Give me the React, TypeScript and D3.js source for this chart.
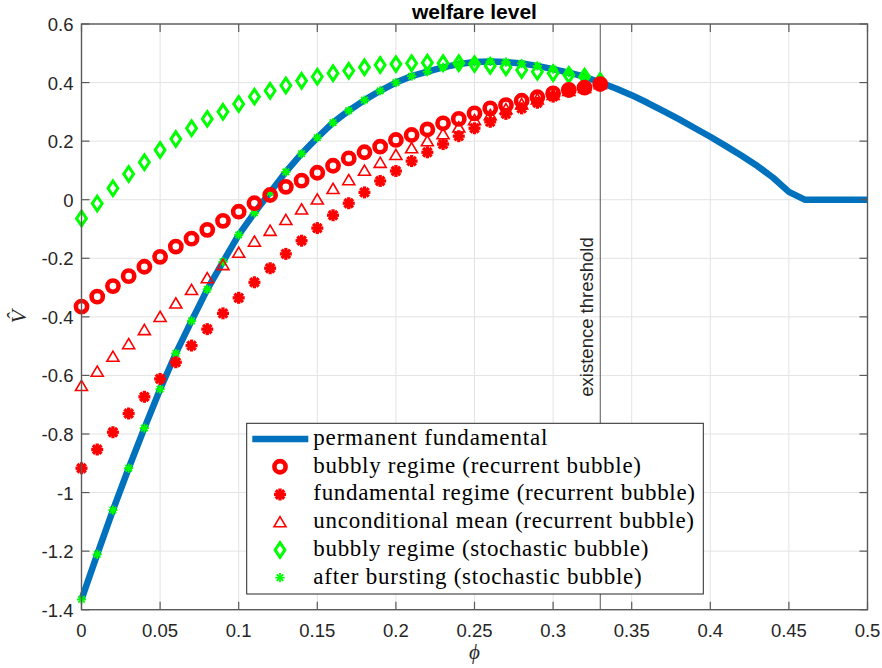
import React from "react";
import * as d3 from "d3";

// ---- data ----
const phiMarkers = [0, 0.01, 0.02, 0.03, 0.04, 0.05, 0.06, 0.07, 0.08, 0.09, 0.1, 0.11, 0.12, 0.13, 0.14, 0.15, 0.16, 0.17, 0.18, 0.19, 0.2, 0.21, 0.22, 0.23, 0.24, 0.25, 0.26, 0.27, 0.28, 0.29, 0.3, 0.31, 0.32, 0.33];
const phiLine = [0, 0.01, 0.02, 0.03, 0.04, 0.05, 0.06, 0.07, 0.08, 0.09, 0.1, 0.11, 0.12, 0.13, 0.14, 0.15, 0.16, 0.17, 0.18, 0.19, 0.2, 0.21, 0.22, 0.23, 0.24, 0.25, 0.26, 0.27, 0.28, 0.29, 0.3, 0.31, 0.32, 0.33, 0.34, 0.35, 0.36, 0.37, 0.38, 0.39, 0.4, 0.41, 0.42, 0.43, 0.44, 0.45, 0.46, 0.47, 0.48, 0.49, 0.5];
const permanentFundamental = [-1.365, -1.211, -1.06, -0.917, -0.78, -0.647, -0.525, -0.414, -0.306, -0.212, -0.12, -0.045, 0.025, 0.095, 0.157, 0.212, 0.263, 0.304, 0.34, 0.372, 0.4, 0.422, 0.437, 0.452, 0.463, 0.47, 0.472, 0.47, 0.465, 0.457, 0.446, 0.434, 0.42, 0.4, 0.38, 0.357, 0.331, 0.303, 0.275, 0.245, 0.215, 0.183, 0.15, 0.115, 0.075, 0.027, 0, 0, 0, 0, 0];
const bubblyRecurrent = [-0.365, -0.331, -0.295, -0.261, -0.229, -0.195, -0.16, -0.133, -0.103, -0.072, -0.041, -0.012, 0.016, 0.044, 0.065, 0.092, 0.116, 0.141, 0.162, 0.181, 0.204, 0.221, 0.24, 0.261, 0.276, 0.295, 0.312, 0.323, 0.338, 0.35, 0.363, 0.375, 0.383, 0.395];
const fundamentalRecurrent = [-0.917, -0.853, -0.794, -0.73, -0.673, -0.612, -0.555, -0.498, -0.442, -0.388, -0.335, -0.282, -0.234, -0.185, -0.14, -0.097, -0.053, -0.012, 0.025, 0.064, 0.098, 0.132, 0.162, 0.19, 0.217, 0.244, 0.266, 0.293, 0.312, 0.331, 0.352, 0.369, 0.382, 0.395];
const unconditionalMean = [-0.636, -0.587, -0.536, -0.493, -0.445, -0.4, -0.354, -0.308, -0.268, -0.223, -0.181, -0.143, -0.106, -0.069, -0.033, 0.001, 0.037, 0.067, 0.099, 0.126, 0.153, 0.176, 0.2, 0.224, 0.247, 0.272, 0.289, 0.309, 0.326, 0.343, 0.358, 0.372, 0.382, 0.395];
const bubblyStochastic = [-0.064, -0.013, 0.039, 0.088, 0.128, 0.17, 0.207, 0.244, 0.276, 0.3, 0.327, 0.352, 0.372, 0.39, 0.406, 0.42, 0.432, 0.44, 0.452, 0.46, 0.463, 0.466, 0.468, 0.466, 0.466, 0.463, 0.457, 0.452, 0.443, 0.437, 0.432, 0.426, 0.42, 0.405];
const afterBursting = [-1.365, -1.211, -1.06, -0.917, -0.78, -0.647, -0.525, -0.414, -0.306, -0.212, -0.12, -0.045, 0.025, 0.095, 0.157, 0.212, 0.263, 0.304, 0.34, 0.372, 0.4, 0.422, 0.437, 0.452, 0.463, 0.47, 0.472, 0.47, 0.465, 0.457, 0.446, 0.434, 0.42, 0.4];
const xTicks = [0, 0.05, 0.1, 0.15, 0.2, 0.25, 0.3, 0.35, 0.4, 0.45, 0.5];
const xTickLabels = ["0", "0.05", "0.1", "0.15", "0.2", "0.25", "0.3", "0.35", "0.4", "0.45", "0.5"];
const yTicks = [-1.4, -1.2, -1, -0.8, -0.6, -0.4, -0.2, 0, 0.2, 0.4, 0.6];
const yTickLabels = ["-1.4", "-1.2", "-1", "-0.8", "-0.6", "-0.4", "-0.2", "0", "0.2", "0.4", "0.6"];
const threshold = 0.33;
const legendLabels = [
  "permanent fundamental",
  "bubbly regime (recurrent bubble)",
  "fundamental regime (recurrent bubble)",
  "unconditional mean (recurrent bubble)",
  "bubbly regime (stochastic bubble)",
  "after bursting (stochastic bubble)",
];
const legendWidths = [234, 327.7, 381.7, 380.7, 335, 328.4];

const W = 882, H = 668;
const L = 81.5, R = 867.5, T = 24, B = 609.7;
const RED = "#FF0000", GREEN = "#00FF00", BLUE = "#0072BD";
const SANS = "'Liberation Sans', Arial, Helvetica, sans-serif";
const SERIF = "'Liberation Serif', 'Times New Roman', serif";

const Circle = ({ cx, cy }: { cx: number; cy: number }) => (
  <circle cx={cx} cy={cy} r={5.6} fill="none" stroke={RED} strokeWidth={4.6} />
);
const Star = ({ cx, cy, color, r, sw, fillC }: any) => {
  const arms = [0, 45, 90, 135];
  return (
    <g transform={`translate(${cx},${cy})`}>
      {arms.map((a) => {
        const rad = (a * Math.PI) / 180;
        const dx = Math.cos(rad) * r, dy = Math.sin(rad) * r;
        return <line key={a} x1={-dx} y1={-dy} x2={dx} y2={dy} stroke={color} strokeWidth={sw} />;
      })}
      {fillC ? <circle r={fillC} fill={color} /> : null}
    </g>
  );
};
const Tri = ({ cx, cy }: { cx: number; cy: number }) => (
  <path d={`M${cx},${cy - 5.6} L${cx + 6},${cy + 4.6} L${cx - 6},${cy + 4.6} Z`} fill="none" stroke={RED} strokeWidth={1.6} />
);
const Diamond = ({ cx, cy }: { cx: number; cy: number }) => (
  <path d={`M${cx},${cy - 7.3} L${cx + 4.9},${cy} L${cx},${cy + 7.3} L${cx - 4.9},${cy} Z`} fill="none" stroke={GREEN} strokeWidth={3} />
);

export default function App() {
  const x = d3.scaleLinear().domain([0, 0.5]).range([L, R]);
  const y = d3.scaleLinear().domain([-1.4, 0.6]).range([B, T]);
  const line = d3.line<number>().x((_, i) => x(phiLine[i])).y((d) => y(d));
  const legX = 246.7, legY = 423.3, legW = 456.6, legH = 170.7;
  const rowY = (i: number) => 439 + i * 27.74;

  return (
    <svg width={W} height={H} style={{ position: "absolute", left: 0, top: 0, background: "#fff" }}>
      <rect x={0} y={0} width={W} height={H} fill="#fff" />
      <rect x={L} y={T} width={R - L} height={B - T} fill="#fff" />
      {/* grid */}
      {xTicks.map((t) => (
        <line key={"gx" + t} x1={x(t)} x2={x(t)} y1={T} y2={B} stroke="#e3e3e3" strokeWidth={1} />
      ))}
      {yTicks.map((t) => (
        <line key={"gy" + t} x1={L} x2={R} y1={y(t)} y2={y(t)} stroke="#e3e3e3" strokeWidth={1} />
      ))}
      {/* threshold */}
      <line x1={x(threshold)} x2={x(threshold)} y1={T} y2={B} stroke="#555" strokeWidth={1} />
      <text transform={`translate(${x(threshold) - 7},396.7) rotate(-90)`} fontFamily={SANS} fontSize={18.5} fill="#262626">existence threshold</text>
      {/* line */}
      <path d={line(permanentFundamental) || ""} fill="none" stroke={BLUE} strokeWidth={6.5} strokeLinejoin="round" />
      {/* markers */}
      {bubblyStochastic.map((v, i) => <Diamond key={"d" + i} cx={x(phiMarkers[i])} cy={y(v)} />)}
      {afterBursting.map((v, i) => <Star key={"a" + i} cx={x(phiMarkers[i])} cy={y(v)} color={GREEN} r={4.6} sw={1.8} />)}
      {bubblyRecurrent.map((v, i) => <Circle key={"c" + i} cx={x(phiMarkers[i])} cy={y(v)} />)}
      {fundamentalRecurrent.map((v, i) => <Star key={"s" + i} cx={x(phiMarkers[i])} cy={y(v)} color={RED} r={6} sw={3.3} fillC={3} />)}
      {unconditionalMean.map((v, i) => <Tri key={"t" + i} cx={x(phiMarkers[i])} cy={y(v)} />)}
      {/* axes box & ticks */}
      <rect x={L} y={T} width={R - L} height={B - T} fill="none" stroke="#5a5a5a" strokeWidth={1.4} />
      {xTicks.map((t) => (
        <g key={"tx" + t}>
          <line x1={x(t)} x2={x(t)} y1={B} y2={B - 8} stroke="#5a5a5a" strokeWidth={1.2} />
          <line x1={x(t)} x2={x(t)} y1={T} y2={T + 8} stroke="#5a5a5a" strokeWidth={1.2} />
        </g>
      ))}
      {yTicks.map((t) => (
        <g key={"ty" + t}>
          <line x1={L} x2={L + 8} y1={y(t)} y2={y(t)} stroke="#5a5a5a" strokeWidth={1.2} />
          <line x1={R} x2={R - 8} y1={y(t)} y2={y(t)} stroke="#5a5a5a" strokeWidth={1.2} />
        </g>
      ))}
      {xTicks.map((t, i) => (
        <text key={"lx" + t} x={x(t)} y={637} textAnchor="middle" fontFamily={SANS} fontSize={18.5} fill="#262626">{xTickLabels[i]}</text>
      ))}
      {yTicks.map((t, i) => (
        <text key={"ly" + t} x={73.5} y={y(t) + 7} textAnchor="end" fontFamily={SANS} fontSize={18.5} fill="#262626">{yTickLabels[i]}</text>
      ))}
      {/* title & labels */}
      <text x={(L + R) / 2} y={19} textAnchor="middle" fontFamily={SANS} fontSize={21} fontWeight="bold" fill="#000">welfare level</text>
      <text x={(L + R) / 2} y={659} textAnchor="middle" fontFamily={SERIF} fontStyle="italic" fontSize={21} fill="#262626">ϕ</text>
      <text transform={`translate(26,${(T + B) / 2}) rotate(-90)`} textAnchor="middle" fontFamily={SERIF} fontStyle="italic" fontSize={22} fill="#262626">V̂</text>
      {/* legend */}
      <rect x={legX} y={legY} width={legW} height={legH} fill="#fff" stroke="#262626" strokeWidth={1} />
      <line x1={252.3} x2={308.3} y1={rowY(0)} y2={rowY(0)} stroke={BLUE} strokeWidth={6.5} />
      <Circle cx={280} cy={rowY(1)} />
      <Star cx={280} cy={rowY(2)} color={RED} r={6} sw={3.3} fillC={3} />
      <Tri cx={280} cy={rowY(3)} />
      <Diamond cx={280} cy={rowY(4)} />
      <Star cx={280} cy={rowY(5)} color={GREEN} r={4.6} sw={1.8} />
      {legendLabels.map((s, i) => (
        <text key={s} x={313.3} y={rowY(i) + 6} fontFamily={SERIF} fontSize={23} textLength={legendWidths[i]} lengthAdjust="spacing" fill="#000">{s}</text>
      ))}
    </svg>
  );
}
